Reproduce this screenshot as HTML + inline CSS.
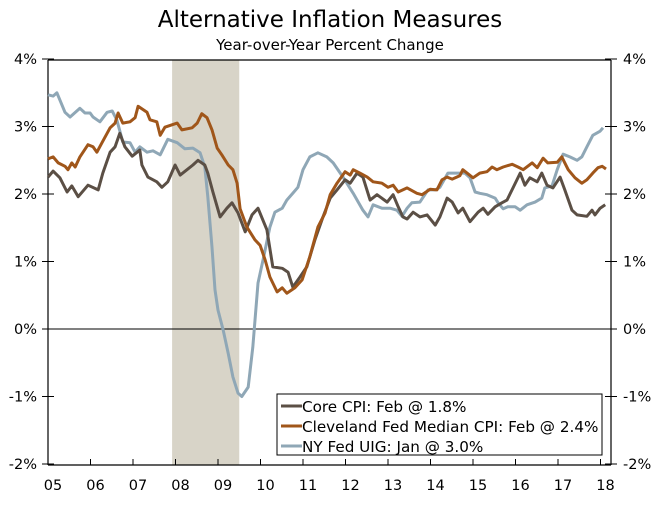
<!DOCTYPE html>
<html><head><meta charset="utf-8"><style>
body{margin:0;background:#fff;}
svg text{font-family:"DejaVu Sans","Liberation Sans",sans-serif;fill:#000;}
</style></head><body>
<svg id="chart" width="672" height="500" xmlns="http://www.w3.org/2000/svg">
<text x="330" y="27" font-size="23" text-anchor="middle">Alternative Inflation Measures</text>
<text x="330" y="50" font-size="15" text-anchor="middle">Year-over-Year Percent Change</text>
<g id="plot"></g>
</svg>
<script>
const coreDates=[2005.00,2005.12,2005.28,2005.45,2005.56,2005.71,2005.94,2006.18,2006.29,2006.46,2006.58,2006.69,2006.81,2006.98,2007.16,2007.21,2007.35,2007.56,2007.68,2007.82,2007.99,2008.11,2008.27,2008.41,2008.53,2008.69,2008.76,2008.88,2009.05,2009.21,2009.33,2009.47,2009.64,2009.80,2009.94,2010.15,2010.29,2010.51,2010.65,2010.76,2010.93,2011.09,2011.28,2011.47,2011.64,2011.80,2011.99,2012.11,2012.27,2012.41,2012.58,2012.74,2012.98,2013.12,2013.24,2013.35,2013.45,2013.59,2013.75,2013.92,2014.11,2014.22,2014.39,2014.51,2014.65,2014.76,2014.93,2015.12,2015.24,2015.35,2015.52,2015.68,2015.80,2015.94,2016.11,2016.22,2016.34,2016.51,2016.62,2016.74,2016.88,2017.05,2017.16,2017.33,2017.45,2017.68,2017.80,2017.87,2017.99,2018.11];
const coreValues=[2.25,2.34,2.24,2.03,2.12,1.96,2.13,2.06,2.31,2.62,2.70,2.90,2.70,2.56,2.65,2.43,2.25,2.18,2.10,2.18,2.43,2.28,2.36,2.43,2.50,2.43,2.31,2.03,1.66,1.79,1.87,1.72,1.44,1.69,1.79,1.47,0.92,0.90,0.84,0.62,0.77,0.92,1.32,1.66,1.94,2.06,2.21,2.16,2.31,2.25,1.91,1.99,1.88,1.99,1.81,1.66,1.63,1.73,1.66,1.69,1.54,1.66,1.94,1.88,1.72,1.79,1.59,1.73,1.79,1.70,1.81,1.87,1.91,2.09,2.31,2.13,2.24,2.18,2.31,2.13,2.09,2.25,2.06,1.76,1.69,1.67,1.76,1.69,1.79,1.84];
const clevDates=[2005.00,2005.12,2005.24,2005.40,2005.47,2005.56,2005.64,2005.75,2005.94,2006.06,2006.15,2006.27,2006.46,2006.58,2006.65,2006.76,2006.93,2007.05,2007.12,2007.33,2007.40,2007.56,2007.64,2007.75,2008.04,2008.15,2008.39,2008.51,2008.62,2008.74,2008.86,2008.98,2009.09,2009.24,2009.35,2009.45,2009.52,2009.68,2009.87,2009.99,2010.11,2010.22,2010.39,2010.51,2010.62,2010.81,2010.98,2011.16,2011.35,2011.52,2011.64,2011.80,2011.99,2012.11,2012.18,2012.34,2012.51,2012.65,2012.86,2013.00,2013.12,2013.24,2013.45,2013.68,2013.80,2013.99,2014.15,2014.27,2014.39,2014.51,2014.69,2014.76,2015.00,2015.16,2015.33,2015.45,2015.56,2015.71,2015.92,2016.06,2016.18,2016.39,2016.51,2016.65,2016.76,2016.98,2017.09,2017.24,2017.40,2017.56,2017.68,2017.82,2017.94,2018.04,2018.13];
const clevValues=[2.52,2.55,2.46,2.41,2.36,2.46,2.40,2.55,2.73,2.70,2.62,2.76,2.98,3.05,3.20,3.05,3.07,3.13,3.30,3.21,3.10,3.07,2.87,2.99,3.05,2.95,2.98,3.05,3.19,3.13,2.95,2.68,2.58,2.43,2.36,2.16,1.78,1.51,1.32,1.24,1.02,0.77,0.55,0.61,0.53,0.61,0.73,1.07,1.51,1.72,1.99,2.16,2.33,2.28,2.36,2.31,2.25,2.18,2.16,2.10,2.13,2.03,2.09,2.01,1.99,2.07,2.06,2.21,2.25,2.22,2.27,2.36,2.24,2.31,2.33,2.40,2.36,2.40,2.44,2.40,2.36,2.46,2.39,2.53,2.46,2.47,2.55,2.36,2.24,2.16,2.21,2.31,2.39,2.41,2.37];
const uigDates=[2005.00,2005.12,2005.21,2005.40,2005.52,2005.75,2005.87,2005.99,2006.06,2006.22,2006.39,2006.51,2006.62,2006.76,2006.93,2007.05,2007.16,2007.33,2007.47,2007.64,2007.82,2008.04,2008.22,2008.41,2008.58,2008.69,2008.76,2008.86,2008.93,2009.00,2009.12,2009.24,2009.35,2009.47,2009.56,2009.71,2009.82,2009.94,2010.06,2010.22,2010.34,2010.51,2010.62,2010.76,2010.88,2011.00,2011.16,2011.35,2011.56,2011.71,2011.94,2012.18,2012.41,2012.53,2012.65,2012.86,2013.05,2013.21,2013.33,2013.45,2013.56,2013.75,2013.94,2014.11,2014.22,2014.41,2014.53,2014.81,2014.93,2015.05,2015.16,2015.33,2015.52,2015.59,2015.71,2015.82,2015.99,2016.11,2016.27,2016.46,2016.62,2016.69,2016.86,2016.98,2017.12,2017.28,2017.45,2017.56,2017.68,2017.82,2017.99,2018.06];
const uigValues=[3.47,3.45,3.50,3.21,3.14,3.27,3.20,3.20,3.14,3.07,3.21,3.23,3.10,2.77,2.76,2.62,2.70,2.62,2.64,2.58,2.81,2.76,2.67,2.68,2.61,2.40,1.96,1.21,0.58,0.28,-0.01,-0.36,-0.71,-0.95,-1.00,-0.86,-0.27,0.68,1.02,1.51,1.73,1.79,1.91,2.01,2.10,2.36,2.55,2.61,2.55,2.46,2.25,2.01,1.76,1.66,1.84,1.79,1.79,1.76,1.67,1.79,1.87,1.88,2.06,2.06,2.10,2.31,2.31,2.31,2.24,2.03,2.01,1.99,1.94,1.87,1.78,1.81,1.81,1.76,1.84,1.88,1.94,2.09,2.12,2.36,2.59,2.55,2.50,2.55,2.70,2.87,2.93,2.98];
const yTicks=[4,3,2,1,0,-1,-2];
const yTickLabels=["4%","3%","2%","1%","0%","-1%","-2%"];
const xYears=[2005,2006,2007,2008,2009,2010,2011,2012,2013,2014,2015,2016,2017,2018];
const xTickLabels=["05","06","07","08","09","10","11","12","13","14","15","16","17","18"];
const recession=[2007.92,2009.5];
const legendLabels=["Core CPI: Feb @ 1.8%","Cleveland Fed Median CPI: Feb @ 2.4%","NY Fed UIG: Jan @ 3.0%"];

const NS="http://www.w3.org/2000/svg";
const L=48,R=611,T=60,B=465;
const xs=t=>L+(t-2005)*42.5;
const ys=v=>329-v*67.5;
const g=document.getElementById('plot');
function mk(tag,a,parent){const e=document.createElementNS(NS,tag);for(const k in a)e.setAttribute(k,a[k]);(parent||g).appendChild(e);return e;}

let rec=mk('rect',{x:xs(recession[0]),y:T,width:xs(recession[1])-xs(recession[0]),height:B-T,fill:'#d8d4c8'});



let ax=mk('path',{d:`M${L} ${T}H${R}M${L} ${T}V${B}M${R} ${T}V${B}M${L} ${B}H${R}`,stroke:'#000','stroke-width':1.2,fill:'none'});


let zl=mk('line',{x1:L,x2:R,y1:ys(0),y2:ys(0),stroke:'#000','stroke-width':1});



yTicks.forEach((v,i)=>{
  const y=ys(v);
  mk('line',{x1:L-6,x2:L+6,y1:y,y2:y,stroke:'#000'});
  mk('line',{x1:R-6,x2:R+6,y1:y,y2:y,stroke:'#000'});
  let a=mk('text',{x:37,y:y+5,'font-size':14.5,'text-anchor':'end'});a.textContent=yTickLabels[i];
  
  
  let b=mk('text',{x:623,y:y+5,'font-size':14.5});b.textContent=yTickLabels[i];
  
  
});
xYears.forEach((yr,i)=>{
  const x=xs(yr);
  if(i>0) mk('line',{x1:x,x2:x,y1:B-6,y2:B,stroke:'#000'});
  let t=mk('text',{x:x+5,y:B+25,'font-size':14.5,'text-anchor':'middle'});t.textContent=xTickLabels[i];
  
  
});

const series=[[coreDates,coreValues,'#5b4f45','core-cpi-line'],[clevDates,clevValues,'#a0561a','cleveland-median-cpi-line'],[uigDates,uigValues,'#8fa7b6','ny-fed-uig-line']];
[2,0,1].forEach(k=>{
  const [d,v,c,n]=series[k];
  const p=d.map((t,i)=>(i?'L':'M')+xs(t).toFixed(1)+' '+ys(v[i]).toFixed(1)).join('');
  let e=mk('path',{d:p,stroke:c,'stroke-width':3,fill:'none','stroke-linejoin':'round'});
  
  
});

let lg=mk('g',{});


mk('rect',{x:277,y:394,width:325,height:61,fill:'#fff',stroke:'#000','stroke-width':1},lg);
legendLabels.forEach((s,i)=>{
  const y=406+i*20;
  mk('line',{x1:281,x2:302,y1:y,y2:y,stroke:series[i][2],'stroke-width':3},lg);
  let t=mk('text',{x:302,y:y+6,'font-size':15.2},lg);t.textContent=s;
  
  
});
</script>
</body></html>
